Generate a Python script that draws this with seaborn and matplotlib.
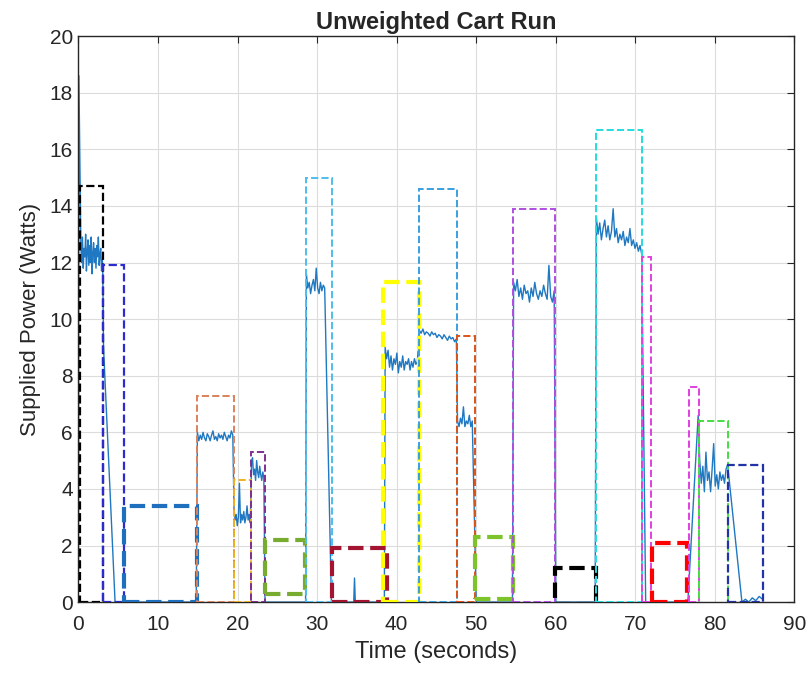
import matplotlib
matplotlib.use("Agg")
import matplotlib.pyplot as plt
from matplotlib.patches import Rectangle
import numpy as np
import pandas as pd
import seaborn as sns

# _______________________________________________________________________________________________________________________
# supplied power trace, stored as segments (start s, end s, samples spread evenly between them)

seg_start = [0.0, 0.05, 0.3, 3.05, 4.6, 14.95, 19.55, 21.75, 23.45, 28.65, 31.8, 34.7, 34.8,
             38.55, 42.85, 47.65, 50.0, 54.7, 60.0, 65.1, 71.3, 77.9, 83.4]
seg_end = [0.0, 0.05, 3.0, 3.15, 14.8, 19.4, 21.6, 23.3, 28.55, 30.95, 34.6, 34.7, 38.45,
           42.6, 47.5, 49.5, 54.55, 59.8, 64.95, 70.8, 76.6, 81.6, 86.0]
seg_power = [
    [1.0],
    [18.6],
    [12.6, 12.0, 12.9, 11.8, 12.5, 12.2, 13.0, 11.7, 12.4, 12.8, 11.9, 12.6, 12.0, 12.9,
     11.6, 12.3, 12.7, 12.0, 12.5, 11.8, 12.6, 12.2, 12.9, 11.9, 12.3, 12.5, 11.7, 12.1],
    [11.8, 9.0],
    [0.0, 0.0],
    [6.0, 5.7, 5.9, 5.75, 6.0, 5.8, 5.7, 5.95, 5.85, 5.7, 5.9, 6.05, 5.75, 5.85, 5.7,
     5.95, 5.8, 5.9, 5.75, 6.0, 5.85, 5.7, 5.9, 5.8, 6.05, 5.9],
    [3.3, 2.9, 3.1, 2.7, 3.0, 4.2, 2.8, 3.1, 2.9, 3.2, 2.8, 3.0, 3.4, 2.9, 3.1, 2.8],
    [4.9, 5.1, 4.5, 4.7, 4.3, 5.0, 4.6, 4.4, 4.8, 4.5, 4.3, 4.6, 4.4],
    [0.0, 0.0],
    [11.6, 11.1, 11.3, 10.9, 11.2, 11.4, 11.0, 11.8, 11.1, 10.9, 11.3, 11.0, 11.2, 11.1],
    [0.0, 0.0],
    [0.85],
    [0.0, 0.0],
    [9.0, 8.6, 8.9, 8.3, 8.7, 8.2, 8.6, 8.4, 8.8, 8.1, 8.5, 8.3, 8.7, 8.2, 8.5, 8.4, 8.6,
     8.2, 8.5, 8.3, 8.6, 8.4, 8.5],
    [9.6, 9.5, 9.65, 9.45, 9.55, 9.5, 9.4, 9.55, 9.45, 9.5, 9.35, 9.45, 9.4, 9.3, 9.45,
     9.35, 9.25, 9.4, 9.3, 9.35, 9.2, 9.3],
    [6.4, 6.2, 6.5, 6.3, 6.9, 6.2, 6.4, 6.3, 6.6, 6.2, 6.4],
    [0.0, 0.0],
    [11.3, 11.0, 11.4, 10.8, 11.1, 10.7, 11.2, 10.9, 11.0, 10.6, 11.1, 10.8, 11.3, 10.9,
     10.7, 11.0, 10.8, 11.2, 10.9, 10.7, 11.9, 10.8, 10.6, 11.0],
    [0.0, 0.0],
    [13.6, 13.0, 13.4, 12.8, 13.2, 13.5, 12.9, 13.3, 12.8, 13.1, 13.9, 12.9, 13.2, 12.7,
     13.0, 12.8, 13.1, 12.6, 12.9, 12.7, 13.2, 12.6, 12.8, 12.5, 12.7, 12.4, 12.6, 12.3],
    [0.0, 0.0],
    [6.6, 5.0, 4.2, 4.8, 3.9, 5.3, 4.3, 4.6, 3.9, 4.7, 5.6, 4.1, 4.5, 4.0, 4.6, 4.3, 4.5,
     4.2, 4.7, 4.85],
    [0.0, 0.1, 0.0, 0.15, 0.05, 0.2, 0.1],
]

# dashed boxes drawn over the trace
box_start = [0.25, 3.1, 5.7, 14.9, 19.5, 21.7, 23.5, 28.6, 31.9, 38.3, 42.8,
             47.6, 49.8, 54.6, 59.9, 65.0, 70.9, 72.1, 76.8, 78.0, 81.7]
box_end = [3.1, 5.7, 14.9, 19.5, 21.7, 23.5, 28.5, 31.9, 38.8, 42.8, 47.6,
           49.8, 54.6, 59.9, 65.0, 70.9, 72.0, 76.5, 78.0, 81.7, 86.0]
box_low = [0.0, 0.0, 0.0, 0.0, 0.0, 0.0, 0.3, 0.0, 0.0, 0.0, 0.0,
           0.0, 0.1, 0.0, -0.05, 0.0, 0.0, 0.0, 0.0, -0.1, 0.0]
box_high = [14.7, 11.9, 3.4, 7.3, 4.3, 5.3, 2.2, 15.0, 1.9, 11.3, 14.6,
            9.4, 2.3, 13.9, 1.2, 16.7, 12.2, 2.1, 7.6, 6.4, 4.85]
box_colors = ["#000000", "#2b2bd0", "#1f6fbf", "#d9825b", "#edb120", "#7e2f8e",
              "#77ac30", "#4dbeee", "#a2142f", "#ffff00", "#3aa0e0", "#d95319",
              "#7cc42a", "#b04ee0", "#000000", "#22dddd", "#e040e0", "#ff0000",
              "#e040e0", "#44dd44", "#2233aa"]
box_widths = [1.6, 1.6, 3.0, 1.4, 1.4, 1.4, 3.0, 1.4, 3.0, 3.0, 1.4,
              1.4, 3.0, 1.4, 3.0, 1.4, 1.4, 3.0, 1.4, 1.4, 1.6]

# _______________________________________________________________________________________________________________________


def build_trace():
    times, power = [], []
    for t0, t1, vals in zip(seg_start, seg_end, seg_power):
        times.extend(np.linspace(t0, t1, len(vals)))
        power.extend(vals)
    return pd.DataFrame({"time": times, "power": power})


def plot_cart_run(df):
    sns.set_style("whitegrid")
    plt.rcParams["font.family"] = ["Liberation Sans", "DejaVu Sans"]

    fig = plt.figure(figsize=(8.09, 6.75), dpi=100)
    ax = fig.add_axes([0.097, 0.108, 0.885, 0.8385])

    sns.lineplot(data=df, x="time", y="power", sort=False, estimator=None,
                 color="#1f78c1", lw=1.0, ax=ax, zorder=2)

    for x0, x1, y0, y1, c, w in zip(box_start, box_end, box_low, box_high,
                                    box_colors, box_widths):
        ax.add_patch(Rectangle((x0, y0), x1 - x0, y1 - y0, fill=False,
                               edgecolor=c, linestyle="--", lw=w, zorder=3))

    ax.set_xlim(0, 90)
    ax.set_ylim(0, 20)
    ax.set_xticks(range(0, 91, 10))
    ax.set_yticks(range(0, 21, 2))
    ax.grid(True, color="#dcdcdc", lw=0.8)
    ax.tick_params(direction="in", length=5, top=True, right=True,
                   labelsize=15, colors="#262626")
    ax.tick_params(axis="x", pad=9)
    ax.tick_params(axis="y", pad=4)
    for s in ax.spines.values():
        s.set_color("#262626")
        s.set_linewidth(1.0)

    ax.set_title("Unweighted Cart Run", fontsize=17, fontweight="bold", pad=5)
    ax.set_xlabel("Time (seconds)", fontsize=17, color="#262626", labelpad=5)
    ax.set_ylabel("Supplied Power (Watts)", fontsize=16, color="#262626", labelpad=6)

    fig.savefig("out.png", dpi=100)


# _______________________________________________________________________________________________________________________

plot_cart_run(build_trace())
